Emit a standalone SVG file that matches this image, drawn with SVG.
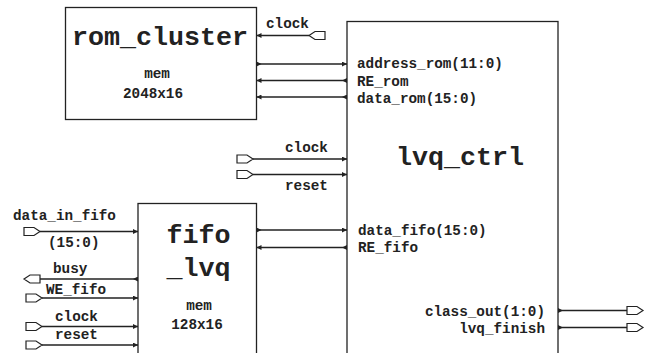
<svg xmlns="http://www.w3.org/2000/svg" width="653" height="353" viewBox="0 0 653 353">
<style>
.box{fill:#fff;stroke:#222;stroke-width:1.3}
.w{stroke:#222;stroke-width:1.3;fill:none}
.port{fill:#fff;stroke:#222;stroke-width:1.2}
text{font-family:"Liberation Mono","Courier New",monospace;font-weight:bold;fill:#222}
.t{font-size:26.7px}
.s{font-size:14.3px}
.m{text-anchor:middle}
.e{text-anchor:end}
</style>
<defs>
<marker id="ah" viewBox="0 0 5 5" refX="5" refY="2.5" markerWidth="5" markerHeight="5" markerUnits="userSpaceOnUse" orient="auto"><path d="M0,0L5,2.5L0,5z" fill="#222"/></marker>
<marker id="at" viewBox="0 0 5 5" refX="0" refY="2.5" markerWidth="5" markerHeight="5" markerUnits="userSpaceOnUse" orient="auto"><path d="M0,0L5,2.5L0,5z" fill="#222"/></marker>
</defs>
<rect width="653" height="353" fill="#fff"/>
<g id="rom_cluster">
<rect class="box" x="65.5" y="7.5" width="191" height="112"/>
<text class="t m" x="160" y="45">rom_cluster</text>
<text class="s m" x="157" y="78">mem</text>
<text class="s m" x="153" y="97.5">2048x16</text>
</g>
<g id="lvq_ctrl">
<rect class="box" x="347" y="21.5" width="211" height="345"/>
<text class="t m" x="460" y="165">lvq_ctrl</text>
<text class="s" x="357" y="68">address_rom(11:0)</text>
<text class="s" x="357" y="85.5">RE_rom</text>
<text class="s" x="357" y="103">data_rom(15:0)</text>
<text class="s" x="358" y="235">data_fifo(15:0)</text>
<text class="s" x="358" y="252">RE_fifo</text>
<text class="s e" x="545" y="315.5">class_out(1:0)</text>
<text class="s e" x="545" y="332.5">lvq_finish</text>
</g>
<g id="fifo_lvq">
<rect class="box" x="138" y="203.5" width="118.5" height="160"/>
<text class="t m" x="198.5" y="243">fifo</text>
<text class="t m" x="198.5" y="276">_lvq</text>
<text class="s m" x="199" y="309.5">mem</text>
<text class="s m" x="197" y="328.5">128x16</text>
</g>
<g id="ports">
<path class="port" d="M309,35.5l6,-4h10v8h-10z"/>
<text class="s" x="266" y="27.5">clock</text>
<path class="port" d="M237,155h10l6,4l-6,4h-10z"/>
<path class="port" d="M237,170.5h10l6,4l-6,4h-10z"/>
<text class="s" x="285" y="152">clock</text>
<text class="s" x="285" y="190">reset</text>
<path class="port" d="M24,227.5h10l6,4l-6,4h-10z"/>
<text class="s" x="13" y="220">data_in_fifo</text>
<text class="s" x="48" y="247">(15:0)</text>
<path class="port" d="M24,279l6,-4h10v8h-10z"/>
<text class="s" x="53" y="273">busy</text>
<path class="port" d="M26,294h10l6,4l-6,4h-10z"/>
<text class="s" x="46" y="293.5">WE_fifo</text>
<path class="port" d="M26,322.5h10l6,4l-6,4h-10z"/>
<text class="s" x="55" y="321">clock</text>
<path class="port" d="M26,341h10l6,4l-6,4h-10z"/>
<text class="s" x="55" y="339">reset</text>
<path class="port" d="M627,306.5h10l6,4l-6,4h-10z"/>
<path class="port" d="M627,323.5h10l6,4l-6,4h-10z"/>
</g>
<g id="connectors">
<line class="w" x1="309" y1="35.5" x2="256.5" y2="35.5" marker-end="url(#ah)"/>
<line class="w" x1="256.5" y1="64" x2="347" y2="64" marker-start="url(#at)" marker-end="url(#ah)"/>
<line class="w" x1="347" y1="80.5" x2="256.5" y2="80.5" marker-start="url(#at)" marker-end="url(#ah)"/>
<line class="w" x1="347" y1="97" x2="256.5" y2="97" marker-start="url(#at)" marker-end="url(#ah)"/>
<line class="w" x1="253" y1="159" x2="347" y2="159" marker-end="url(#ah)"/>
<line class="w" x1="253" y1="174.5" x2="347" y2="174.5" marker-end="url(#ah)"/>
<line class="w" x1="256.5" y1="230" x2="347" y2="230" marker-start="url(#at)" marker-end="url(#ah)"/>
<line class="w" x1="347" y1="247.5" x2="256.5" y2="247.5" marker-start="url(#at)" marker-end="url(#ah)"/>
<line class="w" x1="40" y1="231.5" x2="138" y2="231.5" marker-end="url(#ah)"/>
<line class="w" x1="138" y1="279" x2="40" y2="279" marker-start="url(#at)"/>
<line class="w" x1="42" y1="298" x2="138" y2="298" marker-end="url(#ah)"/>
<line class="w" x1="42" y1="326.5" x2="138" y2="326.5" marker-end="url(#ah)"/>
<line class="w" x1="42" y1="345" x2="138" y2="345" marker-end="url(#ah)"/>
<line class="w" x1="558" y1="310.5" x2="627" y2="310.5" marker-start="url(#at)"/>
<line class="w" x1="558" y1="327.5" x2="627" y2="327.5" marker-start="url(#at)"/>
</g>
</svg>
